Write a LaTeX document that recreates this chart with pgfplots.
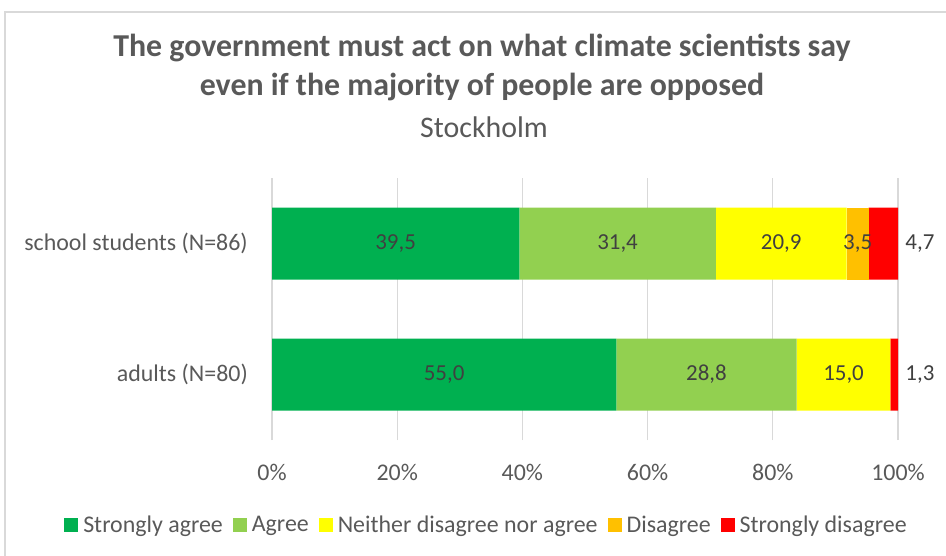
\documentclass[border=0pt]{standalone}
\usepackage{pgfplots}
\pgfplotsset{compat=1.18}
\usepackage{fontspec}
\setmainfont{Carlito}
\definecolor{sa}{HTML}{00B050}
\definecolor{ag}{HTML}{92D050}
\definecolor{ne}{HTML}{FFFF00}
\definecolor{di}{HTML}{FFC000}
\definecolor{sd}{HTML}{FF0000}
\definecolor{txt}{HTML}{595959}
\definecolor{dtxt}{HTML}{404040}
\definecolor{gridc}{HTML}{D9D9D9}
\pgfplotsset{base/.style={
  at={(272bp,-440bp)}, anchor=south west, scale only axis,
  width=626bp, height=262bp,
  xmin=0, xmax=100, ymin=-0.5, ymax=1.5,
  axis line style={draw=none}, tick style={draw=none},
}}
\begin{document}
\begin{tikzpicture}
\path[use as bounding box] (0,0) rectangle (946bp,-556bp);
\draw[gridc, line width=1.2bp] (5bp,-556bp) -- (5bp,-12bp) -- (946bp,-12bp);
\node[font=\bfseries\fontsize{32}{39}\selectfont, text=txt, align=center] at (482bp,-67.5bp)
  {The government must act on what climate scientists say\\even if the majority of people are opposed};
\node[font=\fontsize{30}{34}\selectfont, text=txt] at (484bp,-127bp) {Stockholm};
\begin{axis}[base, xbar stacked, bar width=72bp,
  xtick={0,20,40,60,80,100}, xmajorgrids, grid style={gridc, line width=1.2bp},
  /pgf/number format/assume math mode=true,
  xticklabel={\pgfmathprintnumber{\tick}\%},
  xticklabel style={font=\fontsize{24}{28}\selectfont, text=txt, inner sep=0pt, anchor=north, yshift=-24bp},
  ytick={0,1}, yticklabels={adults (N=80), school students (N=86)},
  yticklabel style={font=\fontsize{24}{28}\selectfont, text=txt, inner sep=0pt, xshift=-24bp},
  legend style={at={(0.341,-0.324)}, anchor=center, draw=none, fill=none,
    legend columns=-1, font=\fontsize{24}{28}\selectfont, text=txt,
    nodes={inner sep=0pt},
    /tikz/every even column/.append style={column sep=10bp},
    /tikz/every odd column/.append style={column sep=5bp}},
  legend image code/.code={\fill[#1] (0bp,-7bp) rectangle (14bp,7bp);},
]
\addplot[fill=sa, draw=none] coordinates {(55.0,0) (39.5,1)};
\addlegendentry{Strongly agree}
\addplot[fill=ag, draw=none] coordinates {(28.8,0) (31.4,1)};
\addlegendentry{Agree}
\addplot[fill=ne, draw=none] coordinates {(15.0,0) (20.9,1)};
\addlegendentry{Neither disagree nor agree}
\addplot[fill=di, draw=none] coordinates {(0.0,0) (3.5,1)};
\addlegendentry{Disagree}
\addplot[fill=sd, draw=none] coordinates {(1.3,0) (4.7,1)};
\addlegendentry{Strongly disagree}
\end{axis}
\begin{axis}[base, hide axis, clip=false]
\addplot[draw=none, mark=none, nodes near coords, point meta=explicit symbolic,
  every node near coord/.append style={anchor=center, font=\fontsize{23}{28}\selectfont, text=dtxt}]
  coordinates {(19.75,1)[39,5] (55.2,1)[31,4] (81.35,1)[20,9] (93.55,1)[3,5] (103.5,1)[4,7]
               (27.5,0)[55,0] (69.4,0)[28,8] (91.3,0)[15,0] (103.5,0)[1,3]};
\end{axis}
\end{tikzpicture}
\end{document}
